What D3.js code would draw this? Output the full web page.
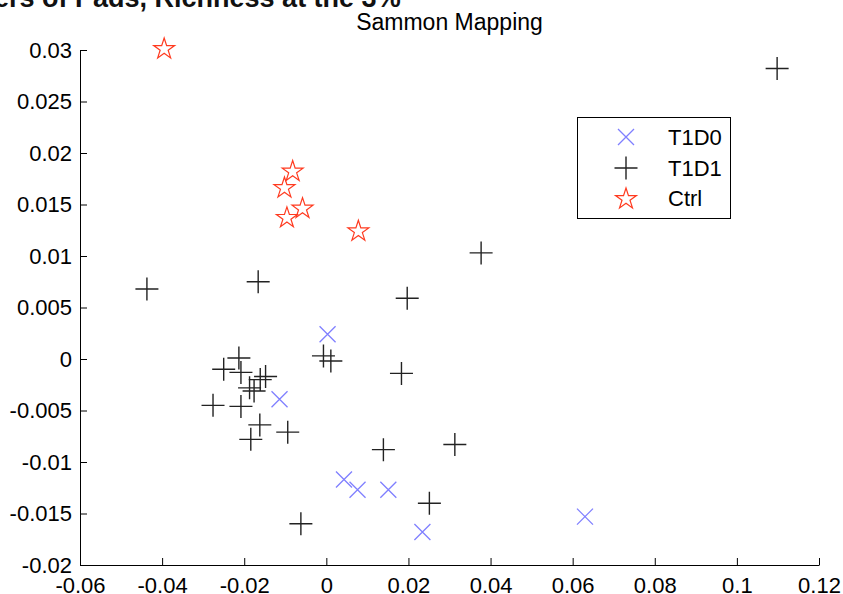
<!DOCTYPE html>
<html>
<head>
<meta charset="utf-8">
<script src="https://cdn.jsdelivr.net/npm/d3@7"></script>
<style>
  body { margin: 0; background: #fff; }
  svg { display: block; font-family: "Liberation Sans", Arial, sans-serif; }
</style>
</head>
<body>
<div id="chart"></div>
<script>
var WIDTH = 843, HEIGHT = 594;

// T1D0 (x markers)
var t1d0X = [0.0003, -0.0114, 0.0043, 0.0076, 0.0151, 0.0234, 0.0630];
var t1d0Y = [0.0024, -0.0039, -0.0117, -0.0127, -0.0127, -0.0168, -0.0153];

// T1D1 (+ markers)
var t1d1X = [0.1098, 0.0377, -0.0437, -0.0166, 0.0197, -0.0007, 0.0011, 0.0183,
             -0.0094, 0.0139, 0.0313, 0.0251, -0.0062, -0.0213, -0.0250, -0.0208,
             -0.0148, -0.0161, -0.0187, -0.0176, -0.0276, -0.0208, -0.0162, -0.0184];
var t1d1Y = [0.0282, 0.0103, 0.0068, 0.0075, 0.0059, 0.0003, -0.0002, -0.0014,
             -0.0071, -0.0088, -0.0083, -0.0140, -0.0160, 0.0001, -0.0010, -0.0013,
             -0.0017, -0.0020, -0.0028, -0.0031, -0.0045, -0.0046, -0.0064, -0.0078];

// Ctrl (stars)
var ctrlX = [-0.0395, -0.0082, -0.0102, -0.0058, -0.0096, 0.0078];
var ctrlY = [0.0301, 0.0182, 0.0166, 0.0146, 0.0137, 0.0124];

var xTicks = [-0.06, -0.04, -0.02, 0, 0.02, 0.04, 0.06, 0.08, 0.1, 0.12];
var yTicks = [-0.02, -0.015, -0.01, -0.005, 0, 0.005, 0.01, 0.015, 0.02, 0.025, 0.03];
var legendNames = ['T1D0', 'T1D1', 'Ctrl'];

var plotLeft = 80, plotRight = 819, plotTop = 50, plotBottom = 565;

var x = d3.scaleLinear().domain([-0.06, 0.12]).range([plotLeft, plotRight]);
var y = d3.scaleLinear().domain([-0.02, 0.03]).range([plotBottom, plotTop]);

var svg = d3.select('#chart').append('svg')
  .attr('width', WIDTH).attr('height', HEIGHT);

// clipped heading from the page above the figure
svg.append('text')
  .attr('x', -6).attr('y', 7)
  .attr('font-size', 27).attr('font-weight', 'bold')
  .attr('fill', '#111')
  .text('ers of Pads, Richness at the 3%');

svg.append('text')
  .attr('x', (plotLeft + plotRight) / 2).attr('y', 30)
  .attr('text-anchor', 'middle')
  .attr('font-size', 23)
  .text('Sammon Mapping');

var fmt = function(d){ return String(+d.toFixed(3)); };

var yAxis = svg.append('g')
  .attr('transform', 'translate(' + plotLeft + ',0)')
  .call(d3.axisLeft(y).tickValues(yTicks).tickFormat(fmt)
        .tickSizeInner(-7).tickSizeOuter(0).tickPadding(8));

var xAxis = svg.append('g')
  .attr('transform', 'translate(0,' + plotBottom + ')')
  .call(d3.axisBottom(x).tickValues(xTicks).tickFormat(fmt)
        .tickSizeInner(-7).tickSizeOuter(0).tickPadding(12));

[xAxis, yAxis].forEach(function(g){
  g.attr('font-size', 22).attr('font-family', null);
  g.selectAll('text').attr('fill', '#000');
  g.selectAll('line').attr('stroke', '#000');
  g.select('.domain').attr('stroke', '#000');
});

var plusPath = 'M-11.5,0H11.5M0,-11.5V11.5';
var crossPath = 'M-8,-8L8,8M-8,8L8,-8';
var starPath = d3.symbol(d3.symbolStar, 136)();

var zip = function(xs, ys){ return xs.map(function(v, i){ return [v, ys[i]]; }); };

var markers = [
  {name: 'T1D0', data: zip(t1d0X, t1d0Y), path: crossPath, color: '#7f7fff', width: 1.3},
  {name: 'T1D1', data: zip(t1d1X, t1d1Y), path: plusPath, color: '#222', width: 1.4},
  {name: 'Ctrl', data: zip(ctrlX, ctrlY), path: starPath, color: '#ff3a1f', width: 1.2}
];

markers.forEach(function(m){
  svg.append('g').selectAll('path')
    .data(m.data)
    .enter().append('path')
    .attr('transform', function(d){ return 'translate(' + x(d[0]) + ',' + y(d[1]) + ')'; })
    .attr('d', m.path)
    .attr('fill', 'none')
    .attr('stroke', m.color)
    .attr('stroke-width', m.width);
});

// legend
var legend = svg.append('g');
legend.append('rect')
  .attr('x', 577.5).attr('y', 117.5).attr('width', 153).attr('height', 101)
  .attr('fill', '#fff').attr('stroke', '#000').attr('stroke-width', 1);

var rowY = [137, 168, 198];
markers.forEach(function(m, i){
  legend.append('path')
    .attr('transform', 'translate(626,' + (rowY[i] + (i == 2 ? 1 : 0)) + ')')
    .attr('d', m.path)
    .attr('fill', 'none')
    .attr('stroke', m.color)
    .attr('stroke-width', m.width);
  legend.append('text')
    .attr('x', 668).attr('y', rowY[i] + 8)
    .attr('font-size', 22)
    .text(legendNames[i]);
});
</script>
</body>
</html>
